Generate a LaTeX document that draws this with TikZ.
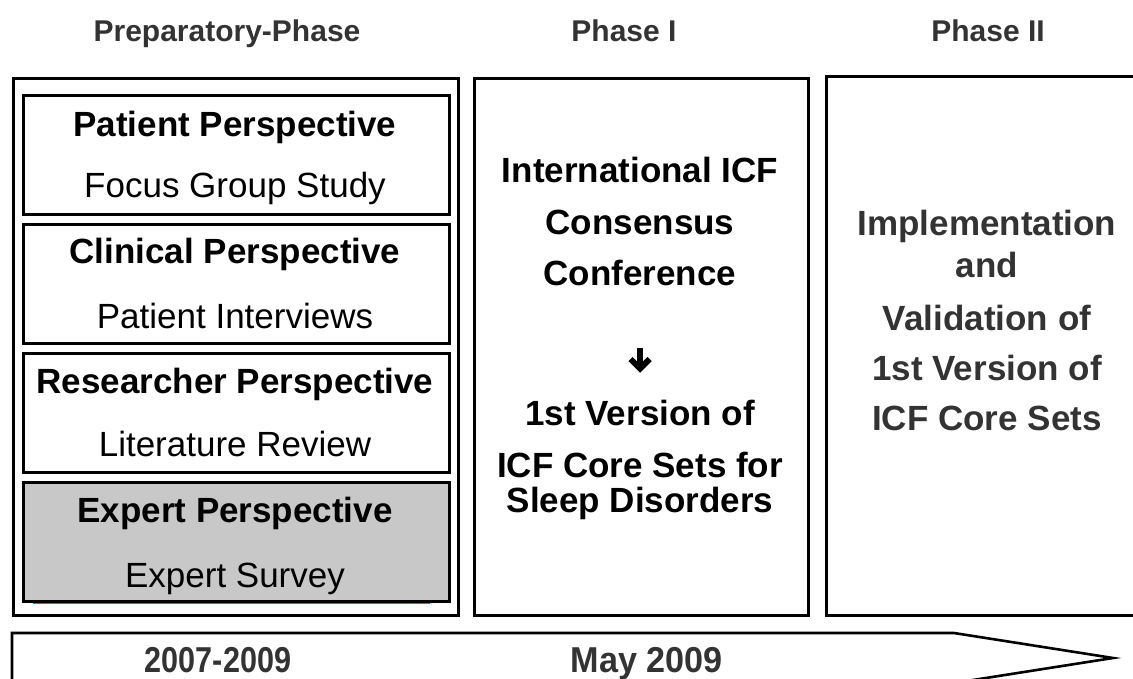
\documentclass[tikz,border=0pt]{standalone}
\usepackage{fontspec}
\setmainfont{Liberation Sans}
\definecolor{hdr}{HTML}{333333}
\definecolor{exfill}{HTML}{C8C8C8}
\definecolor{redline}{HTML}{D84030}
\begin{document}
\begin{tikzpicture}[x=1pt,y=-1pt,
  box/.style={draw, line width=2.6pt, inner sep=0pt, anchor=north west},
  bt/.style={font=\fontsize{35}{35}\selectfont\bfseries, anchor=base, inner sep=0pt},
  rt/.style={font=\fontsize{35}{35}\selectfont, anchor=base, inner sep=0pt},
  gt/.style={bt, text=hdr},
  hd/.style={font=\fontsize{30}{30}\selectfont\bfseries, text=hdr, anchor=base, inner sep=0pt},
  tl/.style={font=\fontsize{36}{36}\selectfont\bfseries, text=hdr, anchor=base, inner sep=0pt},
]
\useasboundingbox (0,0) rectangle (1133,679);
\clip (0,0) rectangle (1133,679);

% headers
\node[hd] (h0) at (227,42) {Preparatory-Phase};
\node[hd] (h1) at (624,42) {Phase I};
\node[hd] (h2) at (988,42) {Phase II};

% preparatory phase
\node[box, minimum width=445pt, minimum height=537pt] (prep) at (12,77) {};
\node[box, minimum width=426pt, minimum height=119pt] (pat) at (22,94) {};
\node[box, minimum width=426pt, minimum height=119pt] (cli) at (22,223) {};
\node[box, minimum width=426pt, minimum height=119pt] (res) at (22,352) {};
\node[box, fill=exfill, minimum width=426pt, minimum height=119pt] (exp) at (22,481) {};
\draw[redline, line width=0.8pt] (33,603.5) -- (430,603.5);

\node[bt] (t1) at (235,137) {Patient Perspective};
\node[rt] (t2) at (235,198) {Focus Group Study};
\node[bt] (t3) at (235,264) {Clinical Perspective};
\node[rt] (t4) at (235,328) {Patient Interviews};
\node[bt] (t5) at (235,393) {Researcher Perspective};
\node[rt] (t6) at (235,456) {Literature Review};
\node[bt] (t7) at (235,522) {Expert Perspective};
\node[rt] (t8) at (235,587) {Expert Survey};

% phase I
\node[box, minimum width=334pt, minimum height=537pt] (p1) at (473,77) {};
\node[bt] (c1) at (640,183) {International ICF};
\node[bt] (c2) at (640,235) {Consensus};
\node[bt] (c3) at (640,285) {Conference};
\draw[line width=6pt] (640,348) -- (640,367);
\draw[line width=6pt, line join=miter] (630.5,359) -- (640,368.5) -- (649.5,359);
\node[bt] (v1) at (640,425) {1st Version of};
\node[bt] (v2) at (640,477) {ICF Core Sets for};
\node[bt] (v3) at (640,512) {Sleep Disorders};

% phase II
\node[box, minimum width=340pt, minimum height=539pt] (p2) at (825,75) {};
\node[gt] (i1) at (987,236) {Implementation};
\node[gt] (i2) at (987,277) {and};
\node[gt] (i3) at (987,330) {Validation of};
\node[gt] (i4) at (987,380) {1st Version of};
\node[gt] (i5) at (987,430) {ICF Core Sets};

% timeline arrow
\draw[line width=2.6pt, line join=miter] (12,700) -- (12,633) -- (954,633) -- (1113,658) -- (954,683) -- (12,683) -- cycle;
\node[tl] (y1) at (218,672) {\scalebox{0.85}[1]{2007-2009}};
\node[tl] (y2) at (647,672) {\scalebox{0.95}[1]{May 2009}};
\end{tikzpicture}
\end{document}
